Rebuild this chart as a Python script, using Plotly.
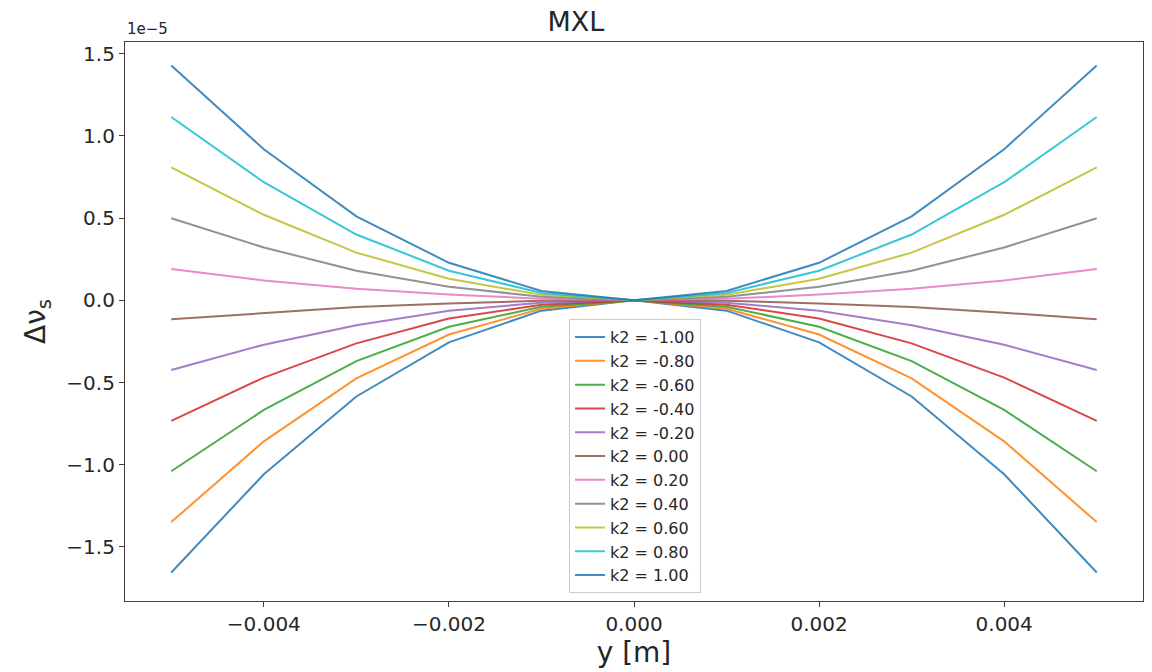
import plotly.graph_objects as go

# Transverse position y [m]
y_pos = [-0.005, -0.004, -0.003, -0.002, -0.001, 0.0, 0.001, 0.002, 0.003, 0.004, 0.005]

# Tune shift Δν_s (in units of 1e-5) for each k2 setting
k2_labels = ["k2 = -1.00", "k2 = -0.80", "k2 = -0.60", "k2 = -0.40", "k2 = -0.20",
             "k2 = 0.00", "k2 = 0.20", "k2 = 0.40", "k2 = 0.60", "k2 = 0.80", "k2 = 1.00"]

dnu_k2_m100 = [-1.656, -1.058, -0.585, -0.256, -0.063, 0.0, -0.063, -0.256, -0.585, -1.058, -1.656]
dnu_k2_m080 = [-1.349, -0.858, -0.475, -0.208, -0.051, 0.0, -0.051, -0.208, -0.475, -0.858, -1.349]
dnu_k2_m060 = [-1.040, -0.667, -0.370, -0.161, -0.039, 0.0, -0.039, -0.161, -0.370, -0.667, -1.040]
dnu_k2_m040 = [-0.733, -0.470, -0.262, -0.111, -0.027, 0.0, -0.027, -0.111, -0.262, -0.470, -0.733]
dnu_k2_m020 = [-0.424, -0.270, -0.152, -0.063, -0.015, 0.0, -0.015, -0.063, -0.152, -0.270, -0.424]
dnu_k2_p000 = [-0.115, -0.076, -0.041, -0.019, -0.003, 0.0, -0.003, -0.019, -0.041, -0.076, -0.115]
dnu_k2_p020 = [0.191, 0.121, 0.070, 0.035, 0.009, 0.0, 0.009, 0.035, 0.070, 0.121, 0.191]
dnu_k2_p040 = [0.499, 0.321, 0.180, 0.083, 0.021, 0.0, 0.021, 0.083, 0.180, 0.321, 0.499]
dnu_k2_p060 = [0.808, 0.520, 0.290, 0.131, 0.033, 0.0, 0.033, 0.131, 0.290, 0.520, 0.808]
dnu_k2_p080 = [1.115, 0.718, 0.400, 0.180, 0.045, 0.0, 0.045, 0.180, 0.400, 0.718, 1.115]
dnu_k2_p100 = [1.428, 0.919, 0.511, 0.228, 0.057, 0.0, 0.057, 0.228, 0.511, 0.919, 1.428]

series = [dnu_k2_m100, dnu_k2_m080, dnu_k2_m060, dnu_k2_m040, dnu_k2_m020, dnu_k2_p000,
          dnu_k2_p020, dnu_k2_p040, dnu_k2_p060, dnu_k2_p080, dnu_k2_p100]

colors = ["#1f77b4", "#ff7f0e", "#2ca02c", "#d62728", "#9467bd", "#8c564b",
          "#e377c2", "#7f7f7f", "#bcbd22", "#17becf", "#1f77b4"]

x_tickvals = [-0.004, -0.002, 0.0, 0.002, 0.004]
x_ticktext = ["\u22120.004", "\u22120.002", "0.000", "0.002", "0.004"]
y_tickvals = [-1.5, -1.0, -0.5, 0.0, 0.5, 1.0, 1.5]
y_ticktext = ["\u22121.5", "\u22121.0", "\u22120.5", "0.0", "0.5", "1.0", "1.5"]

FONT = "DejaVu Sans"
INK = "#262626"

fig = go.Figure()
for i, (name, vals, col) in enumerate(zip(k2_labels, series, colors)):
    fig.add_trace(go.Scatter(
        x=y_pos, y=vals, mode="lines", name=name,
        line=dict(color=col, width=2), opacity=0.85,
        legendgroup=f"g{i}",
    ))

axis_common = dict(
    showline=True, linecolor="#404040", linewidth=1.2, mirror=True,
    ticks="outside", ticklen=5, tickwidth=1.2, tickcolor="#404040",
    showgrid=False, zeroline=False,
    tickfont=dict(family=FONT, size=20, color=INK),
)

fig.update_layout(
    width=1152, height=672,
    paper_bgcolor="white", plot_bgcolor="white",
    margin=dict(l=125, r=9, t=42, b=71),
    title=dict(text="MXL", x=0.5, xanchor="center", y=1 - 22 / 672, yanchor="middle",
               font=dict(family=FONT, size=27, color=INK)),
    xaxis=dict(range=[-0.0055, 0.0055], tickvals=x_tickvals, ticktext=x_ticktext,
               title=dict(text="y [m]", font=dict(family=FONT, size=28, color=INK), standoff=6),
               **axis_common),
    yaxis=dict(range=[-1.829, 1.571], tickvals=y_tickvals, ticktext=y_ticktext,
               title=dict(text="\u0394\u03bd<sub>s</sub>", font=dict(family=FONT, size=28, color=INK),
                          standoff=12),
               **axis_common),
    legend=dict(
        x=0.501, xanchor="center", y=0.014, yanchor="bottom",
        bgcolor="rgba(255,255,255,0.8)", bordercolor="#cccccc", borderwidth=1,
        font=dict(family=FONT, size=16, color=INK),
        tracegroupgap=0, itemwidth=30,
    ),
    annotations=[dict(
        text="1e\u22125", xref="paper", yref="paper", x=0, y=1,
        xanchor="left", yanchor="bottom", yshift=2, showarrow=False,
        font=dict(family=FONT, size=15, color=INK),
    )],
)

fig.write_html("out.html")
